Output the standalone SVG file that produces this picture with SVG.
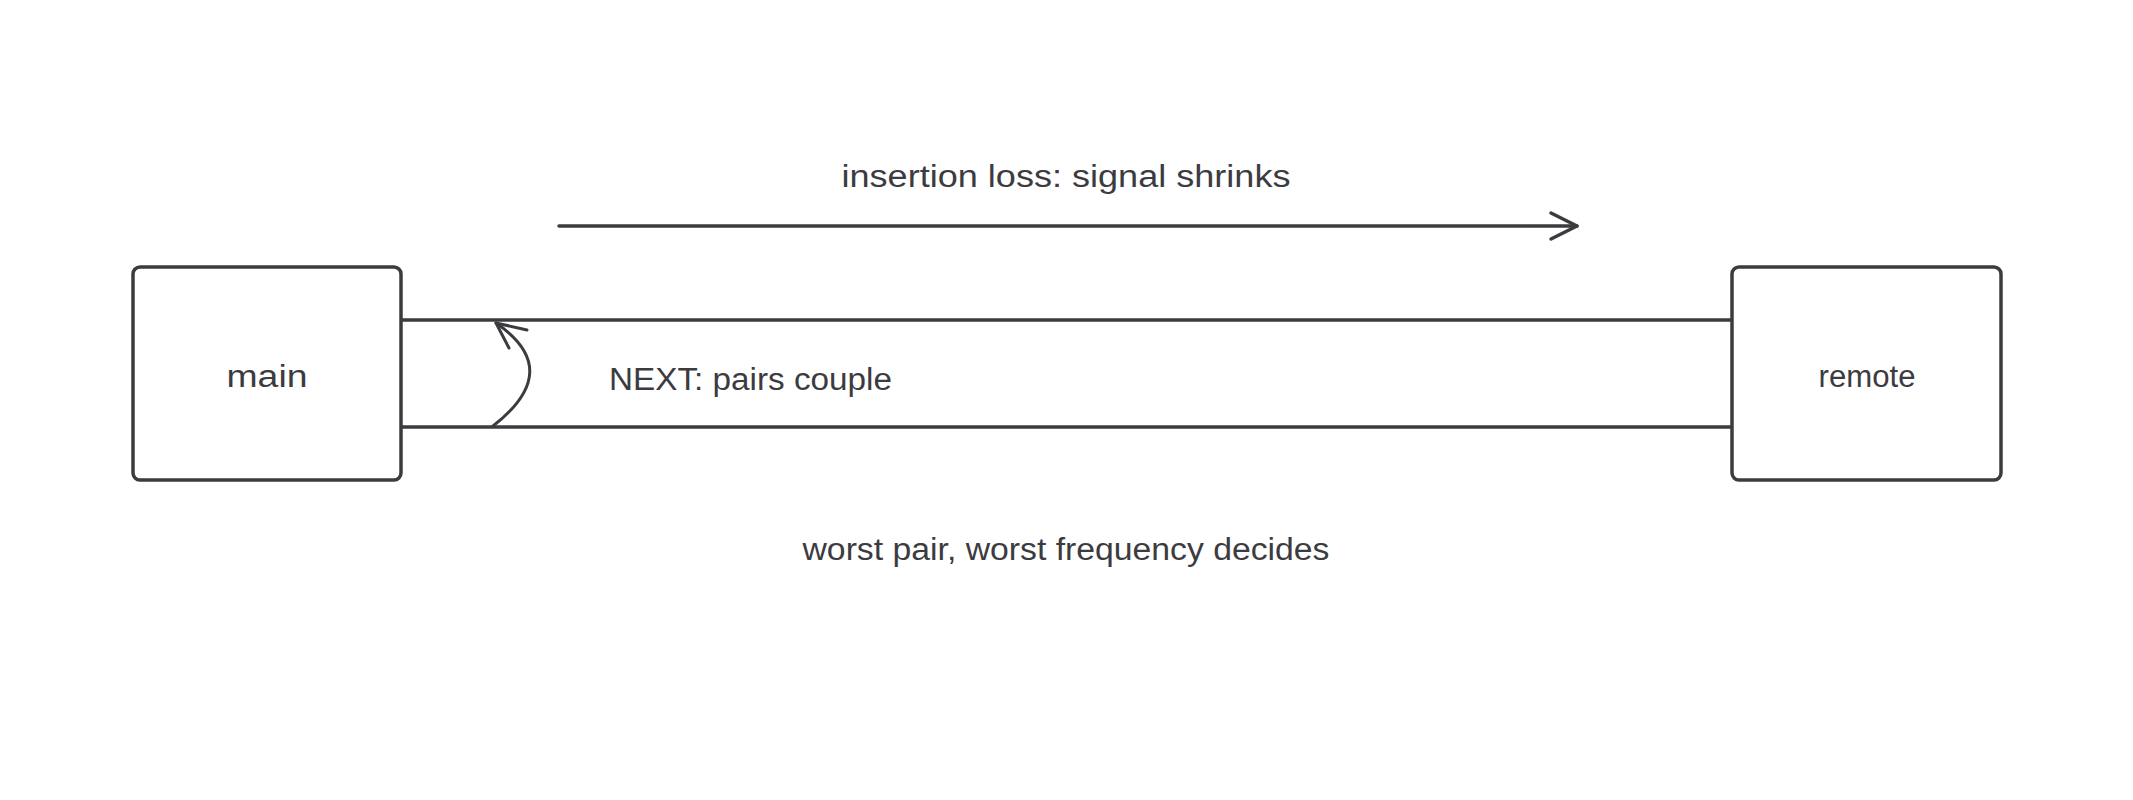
<svg xmlns="http://www.w3.org/2000/svg" width="2133" height="800" viewBox="0 0 2133 800">
<style>
.box{fill:#ffffff;stroke:#3c3b3f;stroke-width:3.5}
.ln{fill:none;stroke:#3c3b3f;stroke-width:3.5;stroke-linecap:round;stroke-linejoin:round}
.cv{fill:none;stroke:#3c3b3f;stroke-width:3;stroke-linecap:round;stroke-linejoin:round}
.t{font-family:"Liberation Sans",Arial,sans-serif;font-size:31px;fill:#3c3b3f;text-anchor:middle}
.tl{font-family:"Liberation Sans",Arial,sans-serif;font-size:31px;fill:#3c3b3f}
</style>
<rect width="2133" height="800" fill="#ffffff"/>
<g id="connectors">
<line class="ln" x1="401" y1="320" x2="1732" y2="320"/>
<line class="ln" x1="401" y1="427" x2="1732" y2="427"/>
<line class="ln" x1="559" y1="226" x2="1577" y2="226"/>
<polyline class="ln" points="1551,213 1577,226 1551,239"/>
<path class="cv" d="M493,426 Q565,370 496,323"/>
<polyline class="cv" points="527,330 496,323 509,348"/>
</g>
<g id="main">
<rect class="box" x="133" y="267" width="268" height="213" rx="7"/>
<text class="t" x="267" y="387" textLength="81" lengthAdjust="spacingAndGlyphs">main</text>
</g>
<g id="remote">
<rect class="box" x="1732" y="267" width="269" height="213" rx="7"/>
<text class="t" x="1867" y="387" textLength="97" lengthAdjust="spacingAndGlyphs">remote</text>
</g>
<g id="labels">
<text class="t" x="1066" y="187" textLength="449" lengthAdjust="spacingAndGlyphs">insertion loss: signal shrinks</text>
<text class="tl" x="609" y="390" textLength="283" lengthAdjust="spacingAndGlyphs">NEXT: pairs couple</text>
<text class="t" x="1066" y="560" textLength="527" lengthAdjust="spacingAndGlyphs">worst pair, worst frequency decides</text>
</g>
</svg>
